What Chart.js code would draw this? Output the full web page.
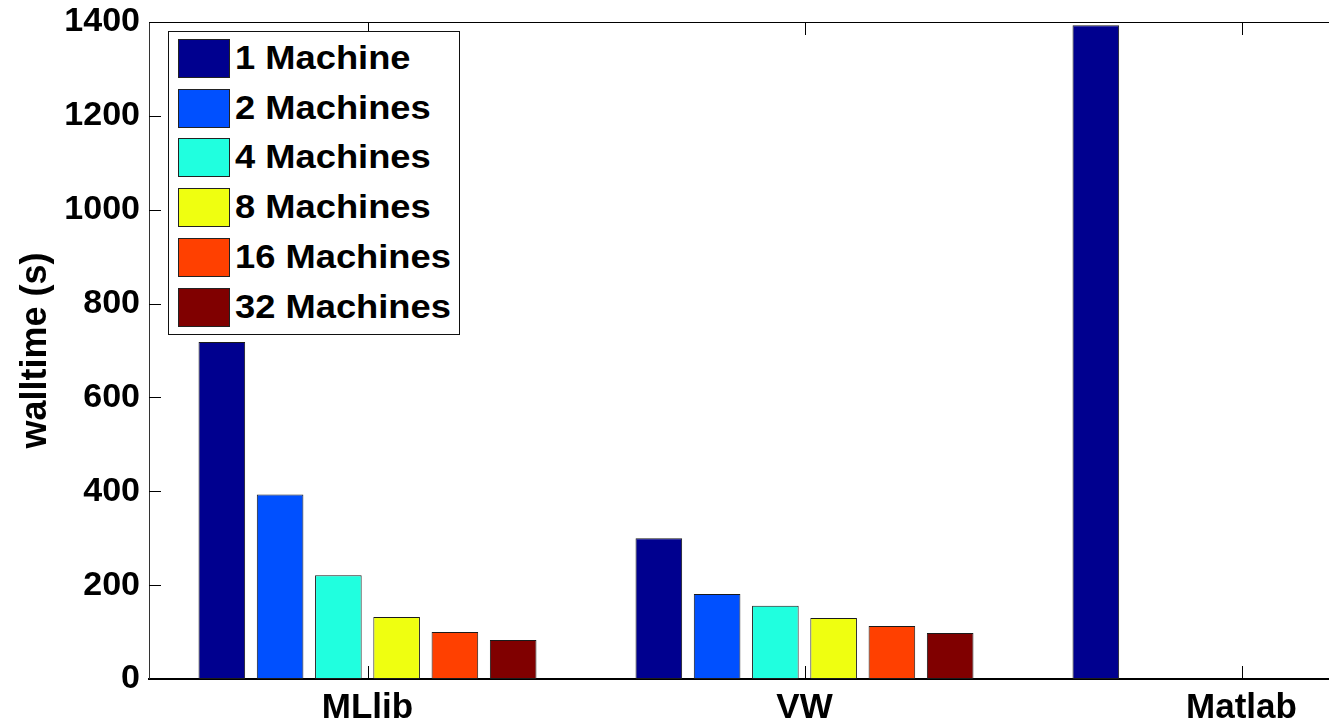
<!DOCTYPE html>
<html>
<head>
<meta charset="utf-8">
<script src="https://cdn.jsdelivr.net/npm/chart.js@4.4.1/dist/chart.umd.min.js"></script>
<style>
  html, body { margin: 0; padding: 0; background: #fff; width: 1342px; height: 724px; overflow: hidden; }
  #clip { position: relative; width: 1329px; height: 724px; overflow: hidden; }
  #wrap { position: absolute; left: 0; top: 0; width: 1480px; height: 724px; }
  #legend { position: absolute; left: 168px; top: 31px; width: 290px; height: 302px; border: 1.5px solid #111; background: #fff; box-sizing: content-box; }
  .row { position: absolute; left: 0; height: 40px; width: 100%; }
  .sw { position: absolute; left: 9px; top: 0; width: 50px; height: 37px; border: 1px solid #222; }
  .lbl { position: absolute; left: 66px; top: 0; line-height: 40px; font: bold 33px "Liberation Sans", Arial, Helvetica, sans-serif; color: #000; white-space: nowrap; transform: scaleX(1.1); transform-origin: left center; }
</style>
</head>
<body>
<div id="clip">
  <div id="wrap">
    <canvas id="c"></canvas>
    <div id="legend"></div>
  </div>
</div>
<script>
const categories = ['MLlib', 'VW', 'Matlab'];
const seriesLabels = ['1 Machine', '2 Machines', '4 Machines', '8 Machines', '16 Machines', '32 Machines'];
const seriesColors = ['#00008f', '#0050ff', '#20ffdf', '#efff10', '#ff4000', '#800000'];
const machines1  = [718, 300, 1393];
const machines2  = [393, 181, 0];
const machines4  = [221, 156, 0];
const machines8  = [132, 130, 0];
const machines16 = [100, 113, 0];
const machines32 = [83, 98, 0];
const yTicks = [0, 200, 400, 600, 800, 1000, 1200, 1400];
const seriesValues = [machines1, machines2, machines4, machines8, machines16, machines32];

const FONT = '"Liberation Sans", Arial, Helvetica, sans-serif';

const matlabAxes = {
  id: 'matlabAxes',
  afterDatasetsDraw(chart) {
    const { ctx, chartArea: a, scales: { x, y } } = chart;
    ctx.save();
    ctx.strokeStyle = '#000';
    ctx.lineWidth = 1.2;
    ctx.beginPath();
    ctx.moveTo(a.left, a.top + 0.5);
    ctx.lineTo(a.right, a.top + 0.5);
    ctx.stroke();
    ctx.lineWidth = 1;
    ctx.beginPath();
    y.ticks.forEach(t => {
      const py = Math.round(y.getPixelForValue(t.value)) + 0.5;
      ctx.moveTo(a.left, py); ctx.lineTo(a.left + 12, py);
    });
    x.ticks.forEach((t, i) => {
      const px = Math.round(x.getPixelForTick(i)) + 0.5;
      ctx.moveTo(px, a.bottom); ctx.lineTo(px, a.bottom - 13);
      ctx.moveTo(px, a.top); ctx.lineTo(px, a.top + 13);
    });
    ctx.stroke();
    ctx.restore();
  }
};

const chart = new Chart(document.getElementById('c'), {
  type: 'bar',
  data: {
    labels: categories,
    datasets: seriesLabels.map((lab, i) => ({
      label: lab,
      data: seriesValues[i],
      backgroundColor: seriesColors[i],
      borderColor: '#1a1a1a',
      borderWidth: 1,
      borderSkipped: false,
      categoryPercentage: 0.8,
      barPercentage: 0.8
    }))
  },
  options: {
    responsive: true,
    maintainAspectRatio: false,
    animation: false,
    layout: { padding: { top: 22, right: 20, bottom: 0, left: 0 } },
    plugins: { legend: { display: false }, tooltip: { enabled: false } },
    scales: {
      x: {
        offset: true,
        grid: { display: false, drawTicks: false },
        border: { display: true, color: '#000', width: 2 },
        ticks: { color: '#000', padding: 8, font: { family: FONT, size: 35, weight: 'bold' } },
        afterFit(s) { s.height = 45; s.paddingLeft = 0; s.paddingRight = 0; }
      },
      y: {
        min: 0, max: 1400,
        afterBuildTicks(s) { s.ticks = yTicks.map(v => ({ value: v })); },
        grid: { display: false, drawTicks: false },
        border: { display: true, color: '#333', width: 1 },
        ticks: { color: '#000', padding: 9, font: { family: FONT, size: 34, weight: 'bold' }, callback: v => String(v) },
        title: { display: true, text: 'walltime (s)', color: '#000', padding: { top: 14, bottom: 0 }, font: { family: FONT, size: 36, weight: 'bold' } },
        afterFit(s) { s.width = 149; s.paddingTop = 0; s.paddingBottom = 0; }
      }
    }
  },
  plugins: [matlabAxes]
});

const legend = document.getElementById('legend');
seriesLabels.forEach((lab, i) => {
  const row = document.createElement('div');
  row.className = 'row';
  row.style.top = (7 + i * 49.7) + 'px';
  const sw = document.createElement('div');
  sw.className = 'sw';
  sw.style.background = seriesColors[i];
  const t = document.createElement('div');
  t.className = 'lbl';
  t.textContent = lab;
  row.appendChild(sw); row.appendChild(t);
  legend.appendChild(row);
});
</script>
</body>
</html>
